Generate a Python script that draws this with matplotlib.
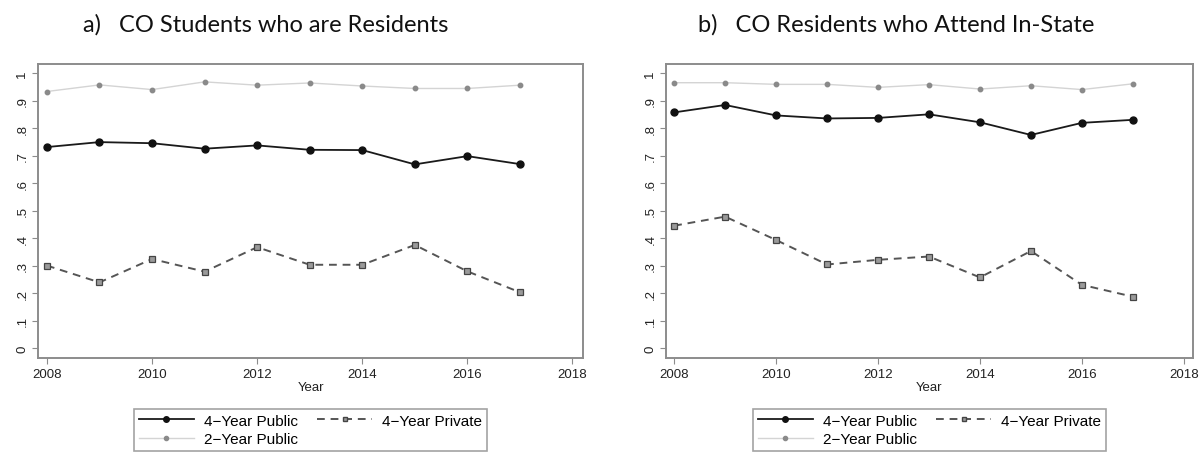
import matplotlib
matplotlib.use("Agg")
import matplotlib.pyplot as plt
from matplotlib.lines import Line2D

years = [2008, 2009, 2010, 2011, 2012, 2013, 2014, 2015, 2016, 2017]

# Panel a) CO Students who are Residents
a_pub4 = [0.731, 0.749, 0.745, 0.725, 0.737, 0.721, 0.720, 0.668, 0.698, 0.669]
a_priv4 = [0.300, 0.239, 0.324, 0.278, 0.367, 0.303, 0.303, 0.375, 0.279, 0.203]
a_pub2 = [0.933, 0.957, 0.940, 0.968, 0.956, 0.964, 0.953, 0.944, 0.944, 0.956]

# Panel b) CO Residents who Attend In-State
b_pub4 = [0.857, 0.884, 0.846, 0.835, 0.837, 0.850, 0.821, 0.775, 0.819, 0.830]
b_priv4 = [0.445, 0.478, 0.393, 0.304, 0.321, 0.333, 0.257, 0.353, 0.230, 0.187]
b_pub2 = [0.965, 0.965, 0.959, 0.959, 0.948, 0.958, 0.942, 0.954, 0.940, 0.961]

titles = ["a)   CO Students who are Residents", "b)   CO Residents who Attend In-State"]
series_labels = ["4\u2212Year Public", "4\u2212Year Private", "2\u2212Year Public"]
xticks = [2008, 2010, 2012, 2014, 2016, 2018]
yticks = [0, 0.1, 0.2, 0.3, 0.4, 0.5, 0.6, 0.7, 0.8, 0.9, 1.0]
ytick_labels = ["0", ".1", ".2", ".3", ".4", ".5", ".6", ".7", ".8", ".9", "1"]

W, H = 1201, 456
fig = plt.figure(figsize=(W / 100, H / 100), dpi=100)

panels = [
    (a_pub4, a_priv4, a_pub2, (38, 583), 266),
    (b_pub4, b_priv4, b_pub2, (666, 1193), 896),
]
top_px, bot_px = 65, 359
frame_col = "#8c8c8c"
small = {"family": "Liberation Sans", "size": 9.5}

for i, (pub4, priv4, pub2, (lpx, rpx), tcx) in enumerate(panels):
    ax = fig.add_axes([lpx / W, 1 - bot_px / H, (rpx - lpx) / W, (bot_px - top_px) / H])
    ax.plot(years, pub2, color="#d4d4d4", lw=1.0, marker="o", ms=3.2,
            mfc="#8a8a8a", mec="#8a8a8a", zorder=2)
    ax.plot(years, pub4, color="#1a1a1a", lw=1.3, marker="o", ms=5.0,
            mfc="#111111", mec="#111111", zorder=3)
    ax.plot(years, priv4, color="#555555", lw=1.4, ls=(0, (4, 3)), marker="s", ms=4.0,
            mfc="#9a9a9a", mec="#444444", mew=0.9, zorder=3)
    if i == 0:
        ax.set_xlim(2007.83, 2018.2)
    else:
        ax.set_xlim(2007.84, 2018.18)
    ax.set_ylim(-0.036, 1.033)
    ax.set_xticks(xticks)
    ax.set_xticklabels([str(x) for x in xticks], fontdict=small)
    ax.set_yticks(yticks)
    ax.set_yticklabels(ytick_labels, fontdict=small, rotation=90, va="center")
    ax.tick_params(axis="both", direction="out", length=4, width=0.8, colors=frame_col,
                   labelcolor="#222222", pad=3)
    for sp in ax.spines.values():
        sp.set_color(frame_col)
        sp.set_linewidth(1.4)
    ax.set_xlabel("Year", fontdict=small, color="#222222", labelpad=1)

    cx = (lpx + rpx) / 2
    fig.text(tcx / W, 1 - 25 / H, titles[i], ha="center", va="center", fontsize=17,
             family="Lato", color="#111111")

    h_pub4 = Line2D([], [], color="#1a1a1a", lw=1.3, marker="o", ms=4, mfc="#111111", mec="#111111")
    h_priv4 = Line2D([], [], color="#555555", lw=1.4, ls=(0, (4, 3)), marker="s", ms=3.5,
                     mfc="#9a9a9a", mec="#444444")
    h_pub2 = Line2D([], [], color="#d4d4d4", lw=1.0, marker="o", ms=3, mfc="#8a8a8a", mec="#8a8a8a")
    leg = fig.legend([h_pub4, h_pub2, h_priv4],
                     [series_labels[0], series_labels[2], series_labels[1]],
                     ncol=2, loc="center", bbox_to_anchor=(cx / W, 1 - 431 / H),
                     prop={"family": "Liberation Sans", "size": 11}, frameon=True,
                     fancybox=False, edgecolor=frame_col, handlelength=3.6,
                     handletextpad=0.65, columnspacing=1.3, borderpad=0.3, labelspacing=0.3)
    leg.get_frame().set_linewidth(1.2)

fig.savefig("out.png", dpi=100)
